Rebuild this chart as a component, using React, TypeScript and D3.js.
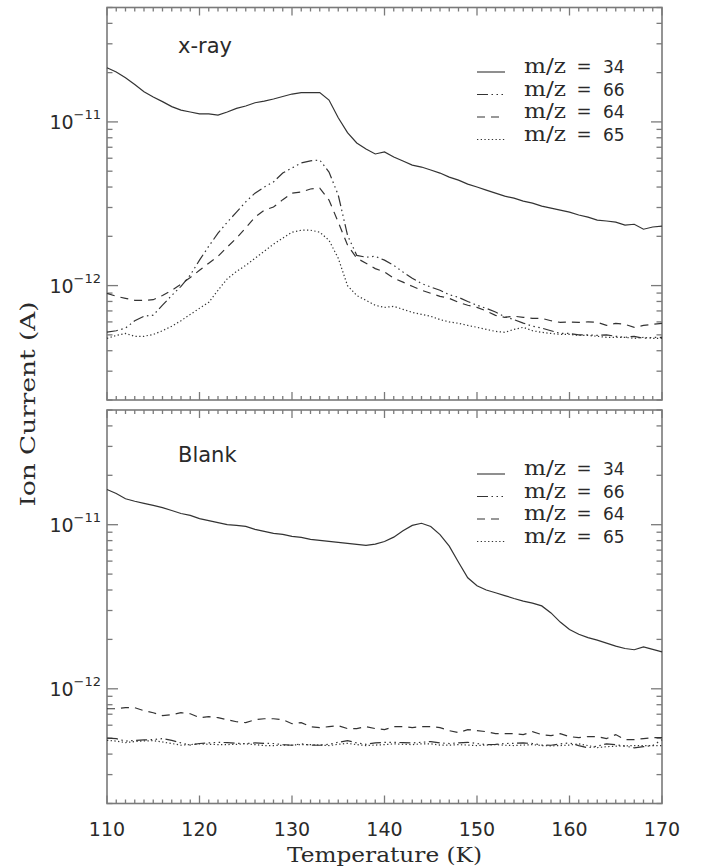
import React from "react";
import * as d3 from "d3";

// Temperature grid (K)
const temps = [
  110, 111, 112, 113, 114, 115, 116, 117, 118, 119,
  120, 121, 122, 123, 124, 125, 126, 127, 128, 129,
  130, 131, 132, 133, 134, 135, 136, 137, 138, 139,
  140, 141, 142, 143, 144, 145, 146, 147, 148, 149,
  150, 151, 152, 153, 154, 155, 156, 157, 158, 159,
  160, 161, 162, 163, 164, 165, 166, 167, 168, 169, 170,
];

// Ion current values in units of 1e-12 A (pA)
// ---- x-ray panel ----
const xray34 = [
  21.4, 20.2, 18.6, 16.9, 15.3, 14.2, 13.3, 12.4, 11.8, 11.5,
  11.2, 11.2, 11.0, 11.5, 12.1, 12.5, 13.1, 13.4, 13.8, 14.3,
  14.8, 15.1, 15.1, 15.1, 13.6, 10.6, 8.6, 7.44, 6.83, 6.37,
  6.55, 6.10, 5.77, 5.45, 5.30, 5.08, 4.87, 4.60, 4.41, 4.17,
  4.00, 3.83, 3.67, 3.52, 3.42, 3.28, 3.19, 3.06, 2.97, 2.89,
  2.81, 2.70, 2.62, 2.51, 2.48, 2.44, 2.34, 2.37, 2.21, 2.28, 2.31,
];
const xray66 = [
  0.52, 0.53, 0.55, 0.61, 0.65, 0.66, 0.76, 0.87, 0.99, 1.16,
  1.43, 1.74, 2.09, 2.44, 2.81, 3.25, 3.67, 4.0, 4.3, 4.87,
  5.23, 5.61, 5.78, 5.85, 4.94, 3.57, 2.03, 1.53, 1.49, 1.51,
  1.43, 1.33, 1.21, 1.11, 1.03, 0.98, 0.936, 0.88, 0.848, 0.8,
  0.758, 0.726, 0.69, 0.645, 0.62, 0.59, 0.565, 0.55, 0.53, 0.51,
  0.51, 0.5, 0.5, 0.496, 0.5, 0.49, 0.483, 0.49, 0.476, 0.483, 0.483,
];
const xray64 = [
  0.897, 0.86, 0.836, 0.813, 0.813, 0.82, 0.87, 0.936, 1.02, 1.12,
  1.24, 1.37, 1.51, 1.72, 1.95, 2.25, 2.62, 2.89, 3.02, 3.35,
  3.67, 3.73, 3.89, 3.94, 3.33, 2.44, 1.77, 1.47, 1.37, 1.27,
  1.21, 1.11, 1.05, 0.99, 0.936, 0.897, 0.86, 0.836, 0.79, 0.758,
  0.736, 0.7, 0.658, 0.64, 0.65, 0.64, 0.631, 0.631, 0.61, 0.596,
  0.6, 0.596, 0.6, 0.596, 0.571, 0.588, 0.58, 0.556, 0.571, 0.58, 0.588,
];
const xray65 = [
  0.476, 0.496, 0.51, 0.49, 0.49, 0.503, 0.53, 0.565, 0.61, 0.667,
  0.726, 0.79, 0.936, 1.1, 1.22, 1.33, 1.47, 1.62, 1.79, 1.95,
  2.12, 2.18, 2.18, 2.12, 1.89, 1.47, 1.0, 0.87, 0.813, 0.758,
  0.736, 0.747, 0.716, 0.686, 0.667, 0.649, 0.62, 0.6, 0.588, 0.571,
  0.556, 0.54, 0.525, 0.518, 0.54, 0.556, 0.53, 0.518, 0.51, 0.503,
  0.503, 0.496, 0.496, 0.49, 0.483, 0.483, 0.483, 0.476, 0.483, 0.476, 0.476,
];

// ---- Blank panel ----
const blank34 = [
  16.4, 15.5, 14.4, 13.9, 13.5, 13.1, 12.7, 12.2, 11.7, 11.4,
  10.9, 10.6, 10.3, 10.0, 9.9, 9.76, 9.37, 9.11, 8.86, 8.73,
  8.49, 8.37, 8.14, 8.03, 7.92, 7.81, 7.7, 7.59, 7.49, 7.62,
  7.9, 8.4, 9.2, 9.9, 10.2, 9.75, 8.7, 7.4, 5.9, 4.75,
  4.25, 4.0, 3.85, 3.7, 3.55, 3.42, 3.33, 3.2, 2.9, 2.55,
  2.3, 2.15, 2.05, 1.98, 1.9, 1.82, 1.76, 1.73, 1.8, 1.74, 1.68,
];
const blank66 = [
  0.5, 0.497, 0.48, 0.485, 0.488, 0.49, 0.497, 0.485, 0.468, 0.454,
  0.464, 0.468, 0.472, 0.47, 0.465, 0.464, 0.468, 0.465, 0.464, 0.457,
  0.453, 0.462, 0.454, 0.453, 0.459, 0.472, 0.483, 0.468, 0.459, 0.468,
  0.472, 0.472, 0.47, 0.468, 0.472, 0.477, 0.468, 0.464, 0.468, 0.472,
  0.464, 0.457, 0.459, 0.464, 0.465, 0.468, 0.464, 0.454, 0.453, 0.462,
  0.468, 0.451, 0.437, 0.447, 0.462, 0.457, 0.447, 0.437, 0.444, 0.451, 0.49,
];
const blank64 = [
  0.756, 0.756, 0.767, 0.767, 0.735, 0.715, 0.686, 0.695, 0.715, 0.705,
  0.667, 0.676, 0.667, 0.648, 0.63, 0.622, 0.648, 0.657, 0.657, 0.648,
  0.613, 0.622, 0.588, 0.58, 0.588, 0.596, 0.572, 0.572, 0.588, 0.572,
  0.564, 0.588, 0.588, 0.58, 0.588, 0.588, 0.58, 0.556, 0.541, 0.564,
  0.556, 0.548, 0.533, 0.533, 0.533, 0.526, 0.548, 0.526, 0.518, 0.533,
  0.511, 0.504, 0.511, 0.511, 0.497, 0.526, 0.49, 0.49, 0.497, 0.504, 0.504,
];
const blank65 = [
  0.485, 0.48, 0.47, 0.477, 0.481, 0.483, 0.474, 0.464, 0.453, 0.457,
  0.462, 0.459, 0.457, 0.457, 0.459, 0.462, 0.457, 0.451, 0.451, 0.453,
  0.454, 0.457, 0.457, 0.454, 0.451, 0.459, 0.465, 0.457, 0.451, 0.454,
  0.457, 0.462, 0.459, 0.457, 0.462, 0.462, 0.454, 0.453, 0.457, 0.454,
  0.451, 0.454, 0.457, 0.453, 0.451, 0.454, 0.457, 0.451, 0.449, 0.451,
  0.454, 0.462, 0.451, 0.438, 0.444, 0.447, 0.449, 0.451, 0.451, 0.451, 0.451,
];

const massNumbers = ["34", "66", "64", "65"];
const panelTitles = ["x-ray", "Blank"];
const xTickValues = [110, 120, 130, 140, 150, 160, 170];
const labelledDecades = [-11, -12];
const xAxisTitle = "Temperature (K)";
const yAxisTitle = "Ion Current (A)";

const UNIT = 1e-12;
const dashes = [undefined, "11,3.5,1.5,3.5,1.5,3.5,1.5,3.5", "8,6", "1.3,2.4"];

const LEFT = 107;
const RIGHT = 662;
const panels = [
  { top: 7.5, bottom: 400, title: panelTitles[0], series: [xray34, xray66, xray64, xray65], legendY: 73, titleY: 53 },
  { top: 410, bottom: 803.5, title: panelTitles[1], series: [blank34, blank66, blank64, blank65], legendY: 475, titleY: 462 },
];

const AXIS = "#7a7a7a";
const INK = "#2a2a2a";
const CURVE = "#333";

function Panel({ p, showX }: { p: any; showX: boolean }) {
  const x = d3.scaleLinear().domain([110, 170]).range([LEFT, RIGHT]);
  const y = d3.scaleLog().domain([2e-13, 5e-11]).range([p.bottom, p.top]);
  const line = d3
    .line<number>()
    .x((_, i) => x(temps[i]))
    .y((v) => y(v * UNIT));
  const yTicks = y.ticks();
  const minorX = d3.range(110, 171, 1);
  const isMajorY = (v: number) => Math.abs(Math.log10(v) - Math.round(Math.log10(v))) < 1e-6;
  return (
    <g>
      <rect x={LEFT} y={p.top} width={RIGHT - LEFT} height={p.bottom - p.top} fill="none" stroke={AXIS} strokeWidth={1.6} />
      {minorX.map((t) => {
        const maj = t % 10 === 0;
        const len = maj ? 8 : 4;
        return (
          <g key={"xt" + t}>
            <line x1={x(t)} x2={x(t)} y1={p.bottom} y2={p.bottom - len} stroke={AXIS} strokeWidth={1.3} />
            <line x1={x(t)} x2={x(t)} y1={p.top} y2={p.top + len} stroke={AXIS} strokeWidth={1.3} />
          </g>
        );
      })}
      {yTicks.map((v, i) => {
        const maj = isMajorY(v);
        const len = maj ? 11 : 5.5;
        return (
          <g key={"yt" + i}>
            <line x1={LEFT} x2={LEFT + len} y1={y(v)} y2={y(v)} stroke={AXIS} strokeWidth={1.3} />
            <line x1={RIGHT} x2={RIGHT - len} y1={y(v)} y2={y(v)} stroke={AXIS} strokeWidth={1.3} />
          </g>
        );
      })}
      {labelledDecades.map((d) => (
        <text key={"yl" + d} x={101} y={y(Math.pow(10, d)) + 7} textAnchor="end" fontFamily="DejaVu Sans" fill={INK}>
          <tspan fontSize={19}>10</tspan>
          <tspan fontSize={13} dy={-10}>{"\u2212" + String(-d)}</tspan>
        </text>
      ))}
      {showX &&
        xTickValues.map((t) => (
          <text key={"xl" + t} x={x(t)} y={p.bottom + 32} textAnchor="middle" fontFamily="DejaVu Sans" fontSize={19} fill={INK}>
            {t}
          </text>
        ))}
      <text x={178} y={p.titleY} fontFamily="DejaVu Sans" fontSize={21} fill={INK}>
        {p.title}
      </text>
      {p.series.map((s: number[], i: number) => (
        <path key={"s" + i} d={line(s) || ""} fill="none" stroke={CURVE} strokeWidth={1.2} strokeDasharray={dashes[i]} />
      ))}
      {massNumbers.map((m, i) => {
        const ly = p.legendY + i * 22.5;
        return (
          <g key={"lg" + i}>
            <line x1={477} x2={505} y1={ly - 1} y2={ly - 1} stroke={CURVE} strokeWidth={1.1} strokeDasharray={dashes[i]} />
            <text x={524} y={ly} fontFamily="DejaVu Serif" fontSize={20} textLength={42} lengthAdjust="spacingAndGlyphs" fill={INK}>
              m/z
            </text>
            <text x={584} y={ly} textAnchor="middle" fontFamily="DejaVu Serif" fontSize={18} fill={INK}>
              =
            </text>
            <text x={603} y={ly} fontFamily="DejaVu Sans" fontSize={17} fill={INK}>
              {m}
            </text>
          </g>
        );
      })}
    </g>
  );
}

export default function App() {
  return (
    <svg width={704} height={867} style={{ position: "absolute", left: 0, top: 0, background: "#fff" }}>
      <rect x={0} y={0} width={704} height={867} fill="#fff" />
      {panels.map((p, i) => (
        <Panel key={i} p={p} showX={i === 1} />
      ))}
      <text x={(LEFT + RIGHT) / 2} y={862} textAnchor="middle" fontFamily="DejaVu Serif" fontSize={20} textLength={195} lengthAdjust="spacingAndGlyphs" fill={INK}>
        {xAxisTitle}
      </text>
      <text transform="translate(35,404) rotate(-90)" textAnchor="middle" fontFamily="DejaVu Serif" fontSize={21} textLength={205} lengthAdjust="spacingAndGlyphs" fill={INK}>
        {yAxisTitle}
      </text>
    </svg>
  );
}
